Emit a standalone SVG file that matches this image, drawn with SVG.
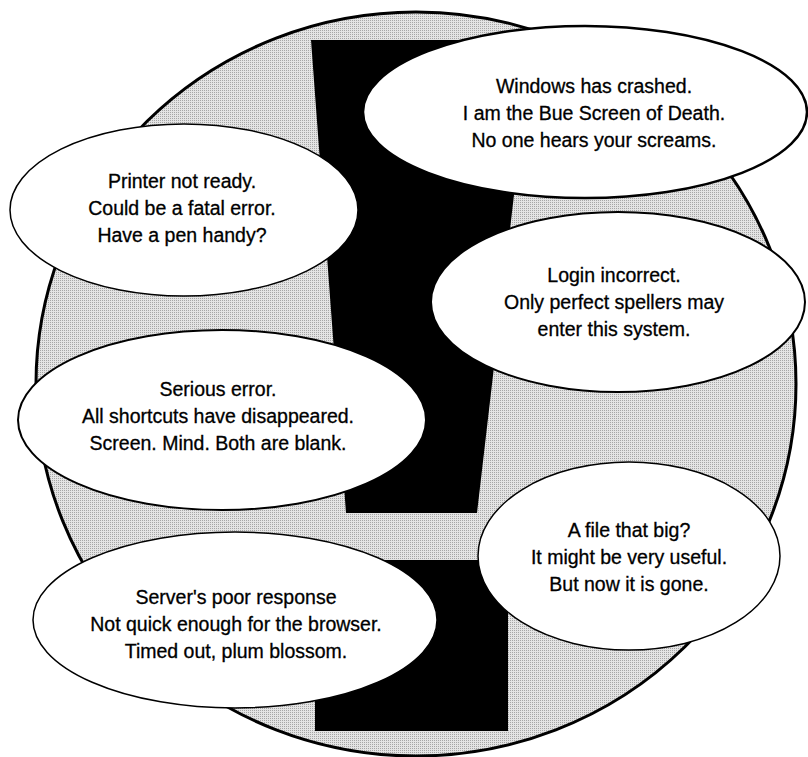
<svg xmlns="http://www.w3.org/2000/svg" width="808" height="757" viewBox="0 0 808 757">
<defs>
<pattern id="stipple" width="2" height="2" patternUnits="userSpaceOnUse">
<rect width="2" height="2" fill="#e4e4e4"/>
<rect width="1" height="1" fill="#a6a6a6"/>
</pattern>
</defs>
<style>
.bg{fill:url(#stipple);stroke:#000;stroke-width:3}
.mark{fill:#000}
.bubble{fill:#fff;stroke:#000;stroke-width:2}
.t{font-family:"Liberation Sans",Arial,sans-serif;font-size:19.5px;fill:#000;stroke:#000;stroke-width:0.3;text-anchor:middle}
</style>
<rect width="808" height="757" fill="#fff"/>
<g id="background">
<ellipse class="bg" cx="416" cy="384" rx="380" ry="372"/>
<polygon class="mark" points="311,40 532,40 477,513 346,513"/>
<rect class="mark" x="315" y="560" width="193" height="171"/>
</g>
<g id="windows">
<ellipse class="bubble" cx="585" cy="112" rx="222" ry="86" style="stroke-width:2.5"/>
<text class="t" x="594" y="93">Windows has crashed.</text>
<text class="t" x="594" y="120">I am the Bue Screen of Death.</text>
<text class="t" x="594" y="147">No one hears your screams.</text>
</g>
<g id="printer">
<ellipse class="bubble" cx="184" cy="210" rx="174" ry="86" style="stroke-width:1.5"/>
<text class="t" x="182" y="188">Printer not ready.</text>
<text class="t" x="182" y="215">Could be a fatal error.</text>
<text class="t" x="182" y="242">Have a pen handy?</text>
</g>
<g id="login">
<ellipse class="bubble" cx="618" cy="302" rx="187" ry="90"/>
<text class="t" x="614" y="282">Login incorrect.</text>
<text class="t" x="614" y="309">Only perfect spellers may</text>
<text class="t" x="614" y="336">enter this system.</text>
</g>
<g id="serious">
<ellipse class="bubble" cx="222" cy="420" rx="204" ry="90"/>
<text class="t" x="218" y="396">Serious error.</text>
<text class="t" x="218" y="423">All shortcuts have disappeared.</text>
<text class="t" x="218" y="450">Screen. Mind. Both are blank.</text>
</g>
<g id="file">
<ellipse class="bubble" cx="629" cy="556" rx="151" ry="94" style="stroke-width:1.5"/>
<text class="t" x="629" y="537">A file that big?</text>
<text class="t" x="629" y="564">It might be very useful.</text>
<text class="t" x="629" y="591">But now it is gone.</text>
</g>
<g id="server">
<ellipse class="bubble" cx="235" cy="620" rx="202" ry="88" style="stroke-width:1.5"/>
<text class="t" x="236" y="604">Server's poor response</text>
<text class="t" x="236" y="631">Not quick enough for the browser.</text>
<text class="t" x="236" y="658">Timed out, plum blossom.</text>
</g>
<g id="connectors"/>
</svg>
